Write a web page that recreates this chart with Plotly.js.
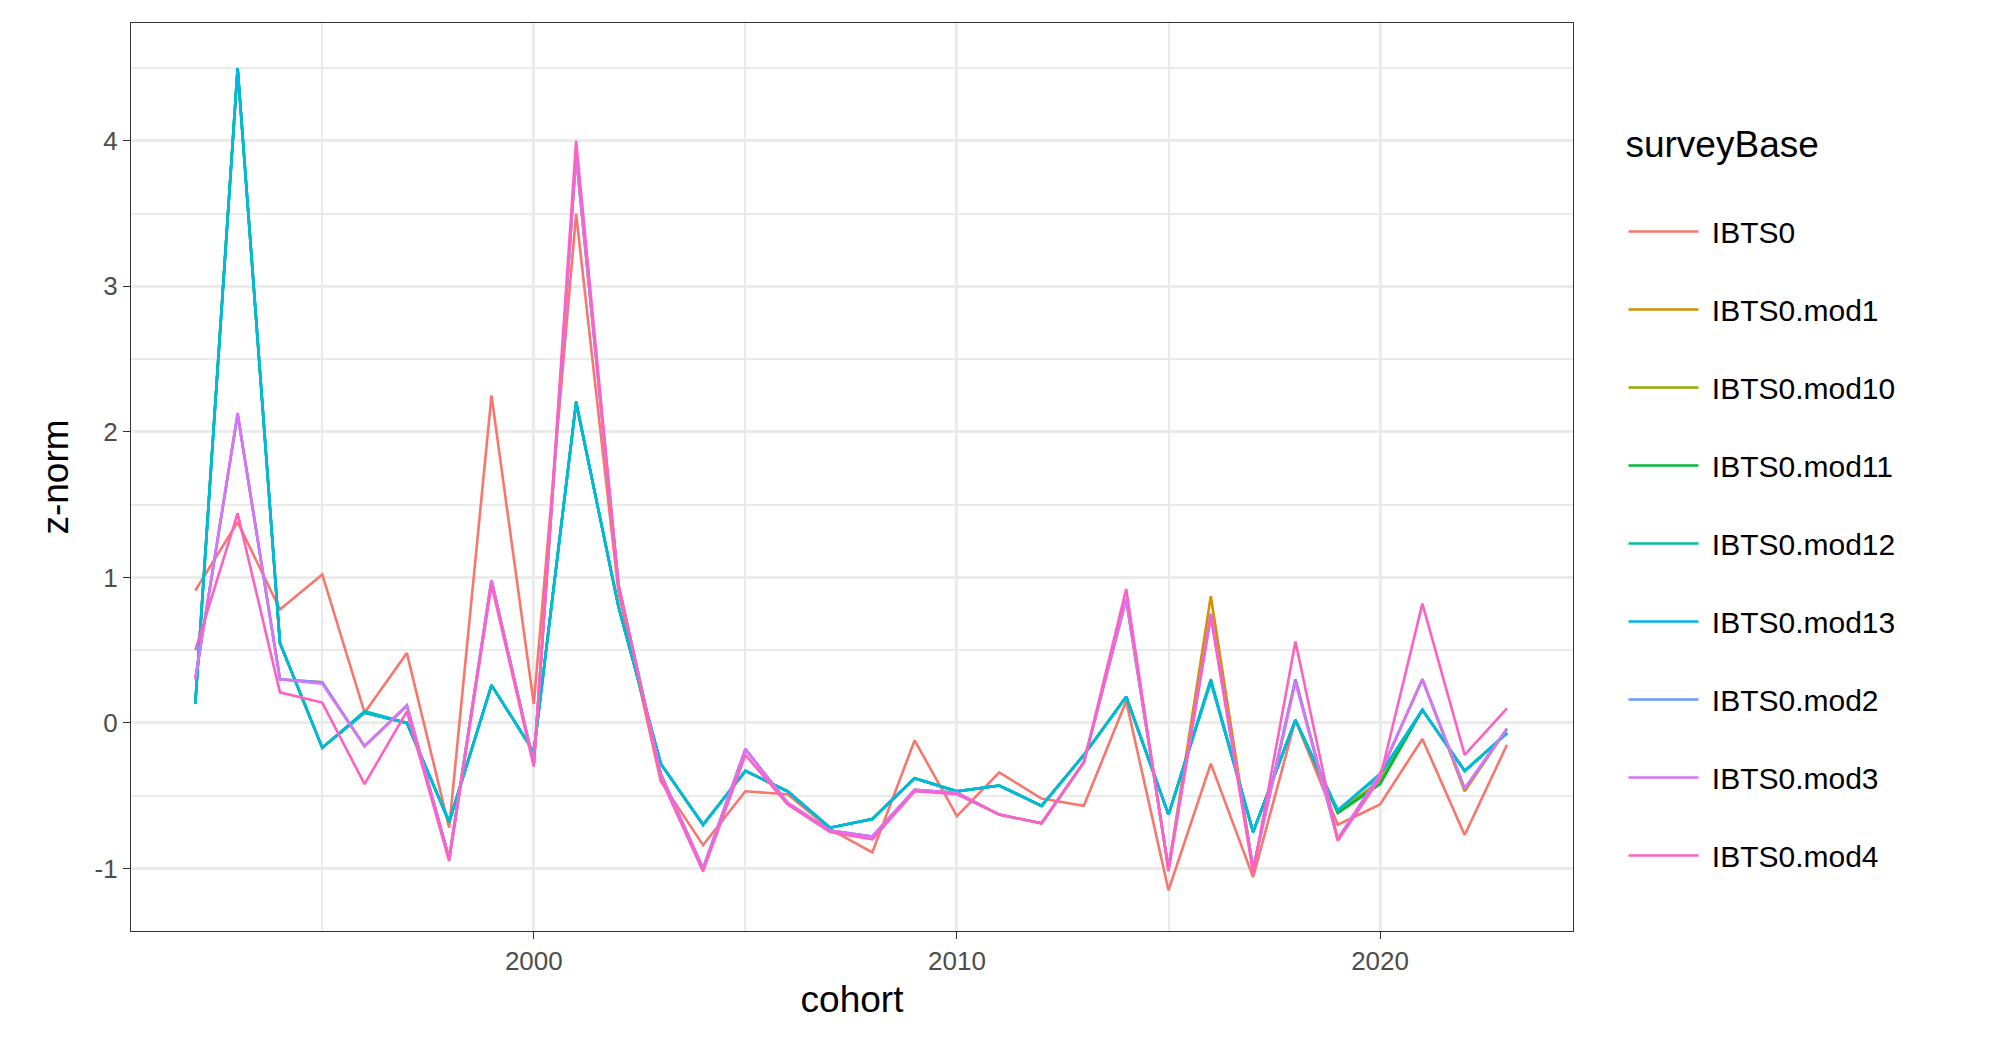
<!DOCTYPE html>
<html><head><meta charset="utf-8">
<script src="https://cdn.plot.ly/plotly-3.0.1.min.js"></script>
<style>body{margin:0;background:#fff}#c{width:2007px;height:1062px}</style>
</head><body><div id="c"></div>
<script>
const years = [1992,1993,1994,1995,1996,1997,1998,1999,2000,2001,2002,2003,2004,2005,2006,2007,2008,2009,2010,2011,2012,2013,2014,2015,2016,2017,2018,2019,2020,2021,2022,2023];
const IBTS0 = [0.91,1.38,0.78,1.02,0.07,0.48,-0.72,2.25,0.13,3.5,0.9,-0.4,-0.84,-0.47,-0.49,-0.73,-0.89,-0.12,-0.64,-0.34,-0.52,-0.57,0.15,-1.15,-0.28,-1.06,0.02,-0.7,-0.56,-0.11,-0.77,-0.15];
const mod1 = [0.3,2.12,0.3,0.28,-0.16,0.12,-0.93,0.98,-0.28,3.9,0.95,-0.35,-1.0,-0.18,-0.55,-0.74,-0.78,-0.46,-0.48,-0.63,-0.69,-0.27,0.85,-1.0,0.87,-1.0,0.3,-0.8,-0.35,0.3,-0.47,-0.04];
const mod10 = [0.13,4.5,0.55,-0.17,0.07,0.0,-0.68,0.26,-0.2,2.2,0.8,-0.28,-0.7,-0.33,-0.47,-0.72,-0.66,-0.38,-0.47,-0.43,-0.57,-0.22,0.18,-0.63,0.29,-0.75,0.02,-0.61,-0.4,0.09,-0.33,-0.07];
const mod11 = [0.13,4.5,0.55,-0.17,0.07,0.0,-0.68,0.26,-0.2,2.21,0.8,-0.28,-0.7,-0.33,-0.47,-0.72,-0.66,-0.38,-0.47,-0.43,-0.57,-0.22,0.18,-0.63,0.29,-0.75,0.02,-0.62,-0.42,0.09,-0.33,-0.07];
const mod12 = [0.13,4.5,0.55,-0.17,0.08,0.0,-0.68,0.26,-0.2,2.2,0.8,-0.28,-0.7,-0.33,-0.47,-0.72,-0.66,-0.38,-0.47,-0.43,-0.57,-0.22,0.18,-0.63,0.3,-0.75,0.02,-0.6,-0.36,0.09,-0.33,-0.07];
const mod13 = [0.13,4.5,0.55,-0.17,0.07,0.0,-0.68,0.26,-0.2,2.2,0.8,-0.28,-0.7,-0.33,-0.47,-0.72,-0.66,-0.38,-0.47,-0.43,-0.57,-0.22,0.18,-0.63,0.28,-0.75,0.02,-0.6,-0.35,0.09,-0.33,-0.07];
const mod2 = [0.3,2.12,0.3,0.28,-0.16,0.12,-0.93,0.98,-0.28,3.9,0.95,-0.35,-1.0,-0.18,-0.55,-0.74,-0.78,-0.46,-0.48,-0.63,-0.69,-0.27,0.85,-1.0,0.75,-1.0,0.3,-0.8,-0.35,0.3,-0.45,-0.04];
const mod3 = [0.3,2.13,0.3,0.27,-0.16,0.12,-0.93,0.98,-0.28,3.9,0.95,-0.35,-1.0,-0.18,-0.55,-0.74,-0.78,-0.46,-0.48,-0.63,-0.69,-0.27,0.85,-1.0,0.75,-1.0,0.28,-0.8,-0.35,0.3,-0.45,-0.04];
const mod4 = [0.5,1.44,0.21,0.14,-0.42,0.08,-0.95,0.95,-0.3,4.0,0.95,-0.38,-1.02,-0.22,-0.56,-0.75,-0.8,-0.47,-0.49,-0.63,-0.69,-0.27,0.92,-1.02,0.73,-1.03,0.56,-0.81,-0.38,0.82,-0.22,0.1];
const names = ["IBTS0","IBTS0.mod1","IBTS0.mod10","IBTS0.mod11","IBTS0.mod12","IBTS0.mod13","IBTS0.mod2","IBTS0.mod3","IBTS0.mod4"];
const yTicks = [-1,0,1,2,3,4];
const yTickText = ["-1","0","1","2","3","4"];
const series = [IBTS0,mod1,mod10,mod11,mod12,mod13,mod2,mod3,mod4];
const colors = ["#F8766D","#D39200","#93AA00","#00BA38","#00C19F","#00B9E3","#619CFF","#DB72FB","#FF61C3"];
const traces = series.map((s,i)=>({x:years,y:s,name:' '+names[i],type:'scatter',mode:'lines',legendgroup:'g'+i,line:{color:colors[i],width:2.6}}));
const ax = {showline:true,mirror:true,linecolor:'#333',linewidth:1.3,ticks:'outside',ticklen:7,tickcolor:'#333',tickwidth:1.3,
  gridcolor:'#EBEBEB',gridwidth:3,zeroline:false,tickfont:{family:'Liberation Sans, Arial',size:26,color:'#4D4D4D'}};
const layout = {
  width:2007,height:1062,paper_bgcolor:'#fff',plot_bgcolor:'#fff',
  margin:{l:131,r:434,t:23,b:131},
  font:{family:'Liberation Sans, Arial'},
  xaxis:Object.assign({},ax,{range:[1990.48,2024.56],tickvals:[2000,2010,2020],minor:{tickvals:[1995,2005,2015],showgrid:true,gridcolor:'#EBEBEB',gridwidth:1.5,ticks:''},
    title:{text:'cohort',font:{size:37,color:'#000'},standoff:10}}),
  yaxis:Object.assign({},ax,{range:[-1.43,4.81],tickvals:yTicks,ticktext:yTickText,minor:{tickvals:[-0.5,0.5,1.5,2.5,3.5,4.5],showgrid:true,gridcolor:'#EBEBEB',gridwidth:1.5,ticks:''},
    title:{text:'z-norm',font:{size:37,color:'#000'},standoff:14}}),
  showlegend:true,
  legend:{x:1.035,xanchor:'left',y:0.905,yanchor:'top',font:{size:30,color:'#000'},tracegroupgap:36,itemwidth:70,
    title:{text:'surveyBase<br> ',font:{size:37,color:'#000'}}}
};
Plotly.newPlot('c',traces,layout,{displayModeBar:false});
</script></body></html>
